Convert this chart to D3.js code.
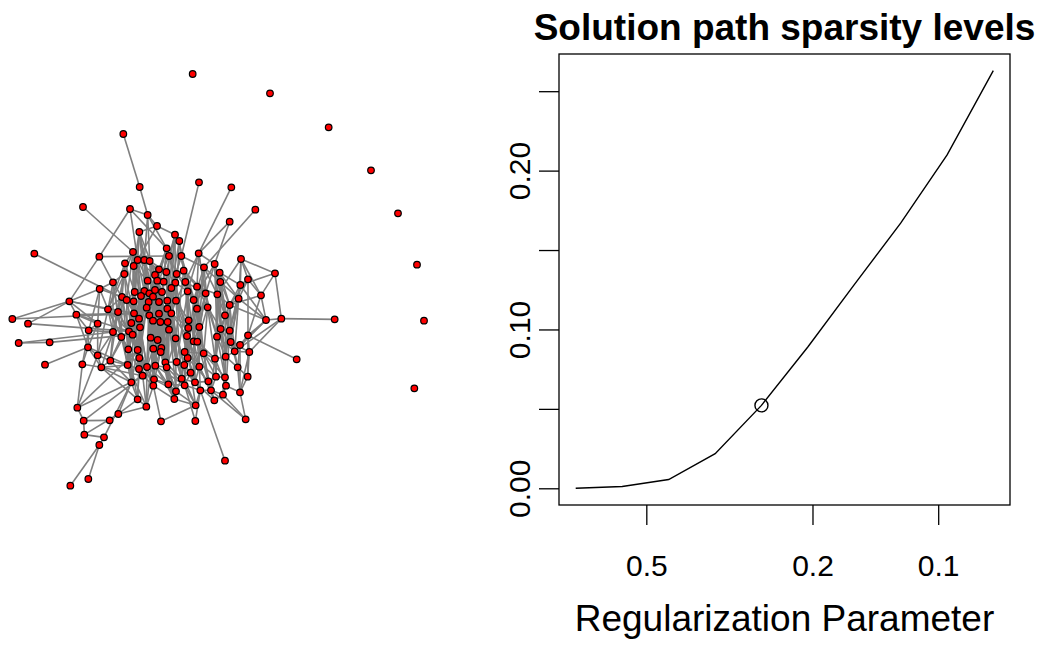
<!DOCTYPE html>
<html>
<head>
<meta charset="utf-8">
<script src="https://cdn.jsdelivr.net/npm/d3@7"></script>
<style>
  body { margin: 0; background: #fff; }
  svg { display: block; font-family: "Liberation Sans", Arial, Helvetica, sans-serif; }
</style>
</head>
<body>
<div id="d3-container"></div>
<script>
/* CONSTANTS AND GLOBALS */
const width = 1042,
  height = 655;

/* DATA */
// network layout coordinates (layout units, y grows downward)
const coreNodes = [
  [418,516],[525,524],[538,543],[500,565],[399,576],[298,590],[413,600],[433,600],[449,603],[507,588],
  [544,588],[596,580],[723,597],[375,610],[401,618],[477,628],[465,645],[499,636],[530,642],[551,632],
  [612,622],[644,612],[659,638],[373,642],[443,662],[472,662],[491,665],[526,668],[556,666],[591,680],
  [661,666],[721,675],[744,658],[825,640],[339,667],[299,687],[404,696],[433,693],[448,700],[465,690],
  [486,696],[514,684],[563,694],[617,700],[652,703],[716,716],[783,706],[366,711],[380,720],[401,724],
  [423,708],[446,726],[459,710],[477,726],[502,722],[528,722],[581,720],[208,724],[229,764],[324,748],
  [354,756],[402,760],[440,743],[448,766],[477,761],[502,746],[514,760],[591,746],[623,742],[675,766],
  [689,735],[798,780],[844,776],[417,776],[394,789],[459,782],[481,786],[503,786],[566,781],[420,802],
  [598,801],[293,791],[266,811],[339,816],[364,831],[387,814],[398,824],[452,833],[473,840],[507,809],
  [527,835],[561,828],[581,844],[592,845],[651,830],[662,807],[689,812],[692,846],[744,826],[264,862],
  [413,870],[385,868],[460,866],[484,864],[482,876],[565,804],[720,855],[293,886],[331,902],[247,913],
  [304,922],[383,915],[418,894],[441,921],[466,917],[496,907],[500,922],[530,906],[553,915],[563,894],
  [554,876],[611,880],[645,896],[677,890],[704,874],[748,876],[598,920],[572,938],[417,927],[428,947],
  [394,967],[462,958],[460,977],[505,973],[528,994],[545,956],[554,976],[585,967],[601,991],[625,964],
  [648,950],[675,952],[678,977],[713,922],[743,950],[633,991],[669,1004],[720,997],[413,1018],[439,1040],
  [523,1017],[587,1036],[643,1021],[232,1043]
];

const outerNodes = [
  [578,42],[810,100],[986,202],[1113,331],[1194,460],[1251,614],[1272,782],[1243,985],
  [370,222],[419,381],[597,367],[694,382],[766,449],[249,441],[390,447],[443,465],[689,485],[471,498],
  [103,581],[37,777],[84,791],[56,849],[149,847],[135,914],[1004,778],[890,898],
  [251,1082],[253,1124],[312,1132],[298,1155],[329,1081],[355,1062],[211,1277],[265,1257],
  [483,1084],[586,1083],[675,1202],[737,1078]
];

// edges: core nodes by number, outer nodes as "o#"
const coreEdges = `
0-6 0-14 0-24 0-40 1-9 1-17 1-27 2-10 2-19 2-41 3-15 3-25 3-52 4-13 4-23 4-36
5-9 5-34 5-57 6-16 6-37 6-50 7-15 7-38 7-62 8-17 8-26 8-53 9-18 9-39 10-20 10-28 10-42
11-21 11-29 11-43 12-31 12-32 12-45 13-23 13-47 13-60 14-24 14-49 14-61 15-25 15-39 15-64
16-26 16-51 16-63 17-27 17-54 17-65 18-28 18-55 18-66 19-29 19-42 19-67 20-30 20-44 20-68
21-30 21-43 21-69 22-31 22-44 22-70 23-34 23-48 23-59 24-37 24-50 24-73 25-40 25-52 25-75
26-41 26-53 26-76 27-42 27-55 27-77 28-43 28-56 28-78 29-44 29-67 29-80 30-45 30-70 30-95
31-32 31-45 31-96 32-45 32-46 32-98 33-46 33-72 34-35 34-47 34-59 34-83 35-47 35-57 35-81
36-48 36-49 36-61 36-85 37-50 37-62 37-74 38-51 38-63 38-79 39-52 39-64 39-87 40-53 40-65 40-88
41-54 41-66 41-89 42-55 42-67 42-91 43-56 43-68 43-93 44-69 44-70 44-94 45-70 45-71 45-96
46-71 46-98 47-60 47-84 47-59 48-60 48-61 48-86 49-61 49-73 49-100 50-62 50-73 50-101
51-63 51-75 51-102 52-64 52-76 52-103 53-65 53-77 53-104 54-66 54-89 54-115 55-66 55-78 55-105
56-67 56-80 56-119 57-58 57-59 57-81 58-81 58-82 58-99 59-83 59-84 59-107 60-84 60-85 60-108
61-74 61-85 61-111 62-73 62-87 62-112 63-75 63-87 63-113 64-76 64-88 64-114 65-77 65-89 65-116
66-90 66-105 66-117 67-80 67-91 67-120 68-93 68-94 68-121 69-95 69-96 69-122 70-95 70-97 70-123
71-98 71-106 71-124 72-124 72-125 72-71 73-79 73-86 73-128 74-86 74-101 74-111 75-87 75-102 75-131
76-88 76-103 76-133 77-90 77-104 77-115 78-91 78-105 78-118 79-100 79-112 79-129 80-92 80-93 80-126
81-82 81-99 81-107 82-99 82-109 82-83 83-107 83-108 83-84 84-101 84-108 84-111 85-100 85-101 85-130
86-100 86-112 86-128 87-102 87-113 87-131 88-103 88-114 88-132 89-104 89-115 89-133 90-116 90-117 90-134
91-105 91-119 91-135 92-120 92-121 92-137 93-121 93-126 93-139 94-122 94-123 94-140 95-96 95-123 95-141
96-97 96-124 96-142 97-106 97-125 97-143 98-106 98-125 98-144 99-107 99-109 99-110 100-111 100-128 100-129
101-111 101-130 101-148 102-113 102-114 102-131 103-104 103-116 103-132 104-115 104-133 105-119 105-120 105-136
106-124 106-143 106-147 107-108 107-110 107-153 108-110 108-111 108-130 109-110 109-153 110-111 110-129 110-148
111-128 111-130 111-149 112-113 112-129 112-131 113-114 113-132 113-149 114-116 114-133 114-150 115-117 115-134
116-133 116-134 116-150 117-118 117-135 118-119 118-127 118-136 119-120 119-137 120-121 120-126 121-122 121-139
122-123 122-140 122-145 123-124 123-141 124-125 124-143 125-144 125-147 126-127 126-137 126-138
127-135 127-136 127-151 128-129 128-148 129-130 129-149 130-148 130-153 131-132 131-134 132-149 132-150
133-136 133-150 134-135 134-151 135-137 136-138 136-151 137-139 137-152 138-145 138-151 139-140 139-152
140-141 140-145 141-142 141-146 142-146 142-147 143-144 143-147 144-147 145-146 145-152 146-152 148-149 150-151
0-52 3-40 6-61 10-54 11-55 12-44 15-53 20-67 21-56 22-69 24-86 25-89 27-91 29-93 30-122 31-70
36-74 37-79 39-103 40-76 41-90 42-92 43-94 44-123 47-83 48-73 49-86 50-112 52-102 53-116 54-117
55-119 57-61 58-85 59-85 60-100 62-102 63-114 64-115 65-133 66-118 67-121 68-124 69-97 73-113
75-116 77-117 78-137 80-139 84-128 87-132 88-134 89-135 91-126 93-140 94-141 99-111 100-130
102-149 104-150 105-127 110-130 112-148 114-136 117-151 119-138 121-145 123-146 126-152
0-36 0-62 1-41 1-54 2-28 2-55 3-26 3-62 4-48 4-61 6-24 6-73 7-51 7-64 8-40 8-75 9-27 9-65
10-41 10-67 11-42 11-68 13-36 13-59 14-50 14-74 15-52 15-87 16-38 16-76 17-41 17-77 18-56 18-89
19-43 19-90 20-56 20-93 21-44 21-94 22-45 22-95 23-61 23-83 24-62 24-100 25-63 25-102 26-64 26-103
27-66 27-104 28-67 28-105 29-68 29-121 30-69 30-96 31-71 31-97 32-70 34-60 34-84 35-59 35-82
36-73 36-100 37-63 37-112 38-64 38-113 39-75 39-114 40-66 40-115 41-77 41-116 42-78 42-117
43-80 43-119 44-95 44-122 45-97 45-124 46-70 47-85 47-101 48-74 48-111 49-79 49-128 50-86 50-129
51-87 51-131 52-88 52-132 53-89 53-133 54-90 54-134 55-91 55-135 56-92 56-137 59-101 60-111
61-86 61-130 62-100 63-102 64-103 65-104 66-91 67-92 68-122 69-123 70-124 73-101 74-108 75-103
76-104 77-116 78-120 79-113 80-121 83-110 85-112 86-113 87-114 88-115 89-117 90-118 91-120
92-126 93-122 94-124 95-122 96-123 97-124 100-113 101-128 102-131 103-114 104-116 105-118
112-132 113-133 115-135 116-136 117-137 118-138 119-139 120-140 121-141 122-142 123-143
126-145 127-138 128-131 129-132 131-133 133-134 134-150 135-136
`;

const outerEdges = `
o8-o9 o9-o15 o15-o17 o15-3 o15-7 o15-8 o10-10 o11-11 o12-20 o13-4 o14-5 o14-o15 o14-3 o14-6
o16-11 o16-21 o17-1 o17-0 o17-6 o18-48 o19-61 o19-57 o20-57 o20-85 o21-o22 o21-83 o22-86 o23-99
o26-o30 o26-o27 o26-129 o27-o28 o27-o31 o28-o29 o28-130 o29-o32 o29-o33 o30-148 o31-130 o31-149
o34-132 o34-151 o35-136 o35-138 o36-138 o37-145 o37-146 o37-147 72-o24 o25-98 33-12 33-31
12-46 153-100 153-o26 71-70 58-61
`;

// solution path
const lambdas = [0.738, 0.571, 0.442, 0.342, 0.265, 0.205, 0.159, 0.123, 0.0952, 0.0738];
const sparsity = [0, 0.0011, 0.0055, 0.0218, 0.0522, 0.0891, 0.1281, 0.1669, 0.2099, 0.2629];
const selectedIndex = 4;
const yTicks = [0, 0.05, 0.10, 0.15, 0.20, 0.25];
const yTickLabels = ["0.00", "", "0.10", "", "0.20", ""];
const xTicks = [0.5, 0.2, 0.1];
const xTickLabels = ["0.5", "0.2", "0.1"];

const svg = d3.select("#d3-container")
  .append("svg")
  .attr("width", width)
  .attr("height", height);

svg.append("rect").attr("width", width).attr("height", height).attr("fill", "#fff");

/* NETWORK */
const nodeMap = new Map();
coreNodes.forEach((d, i) => nodeMap.set(String(i), d));
outerNodes.forEach((d, i) => nodeMap.set("o" + i, d));

const edges = (coreEdges + " " + outerEdges).trim().split(/\s+/)
  .map(s => s.split("-"))
  .map(([a, b]) => ({ source: nodeMap.get(a), target: nodeMap.get(b) }));

const nx = d3.scaleLinear().domain([0, 1350]).range([0, 450]);
const ny = d3.scaleLinear().domain([0, 1320]).range([60, 500]);

const net = svg.append("g").attr("class", "network");

net.selectAll("line")
  .data(edges)
  .join("line")
  .attr("x1", d => nx(d.source[0]))
  .attr("y1", d => ny(d.source[1]))
  .attr("x2", d => nx(d.target[0]))
  .attr("y2", d => ny(d.target[1]))
  .attr("stroke", "#808080")
  .attr("stroke-width", 1.6);

net.selectAll("circle")
  .data(coreNodes.concat(outerNodes))
  .join("circle")
  .attr("cx", d => nx(d[0]))
  .attr("cy", d => ny(d[1]))
  .attr("r", 3.3)
  .attr("fill", "#ff0000")
  .attr("stroke", "#000")
  .attr("stroke-width", 1.2);

/* SOLUTION PATH */
const plot = { left: 559, right: 1010, top: 54, bottom: 505 };

// R-style 4% padding on both axes
const logLo = Math.log10(d3.min(lambdas)), logHi = Math.log10(d3.max(lambdas));
const xPad = 0.04 * (logHi - logLo);
const xScale = d3.scaleLog()
  .domain([Math.pow(10, logHi + xPad), Math.pow(10, logLo - xPad)])
  .range([plot.left, plot.right]);

const yMax = d3.max(sparsity), yPad = 0.04 * yMax;
const yScale = d3.scaleLinear()
  .domain([-yPad, yMax + yPad])
  .range([plot.bottom, plot.top]);

const path = svg.append("g").attr("class", "path-plot");

path.append("rect")
  .attr("x", plot.left).attr("y", plot.top)
  .attr("width", plot.right - plot.left)
  .attr("height", plot.bottom - plot.top)
  .attr("fill", "none").attr("stroke", "#000").attr("stroke-width", 1.3);

const line = d3.line()
  .x((d, i) => xScale(lambdas[i]))
  .y(d => yScale(d));

path.append("path")
  .datum(sparsity)
  .attr("d", line)
  .attr("fill", "none")
  .attr("stroke", "#000")
  .attr("stroke-width", 1.4);

path.append("circle")
  .attr("cx", xScale(lambdas[selectedIndex]))
  .attr("cy", yScale(sparsity[selectedIndex]))
  .attr("r", 6.5)
  .attr("fill", "none")
  .attr("stroke", "#000")
  .attr("stroke-width", 1.4);

// AXES
const xAxis = d3.axisBottom(xScale)
  .tickValues(xTicks)
  .tickFormat((d, i) => xTickLabels[i])
  .tickSize(20)
  .tickPadding(30);

const xg = path.append("g")
  .attr("transform", `translate(0, ${plot.bottom})`)
  .call(xAxis);
xg.select(".domain").remove();
xg.selectAll("line").attr("stroke-width", 1.3);
xg.selectAll("text").attr("font-size", 30).attr("fill", "#000")
  .attr("font-family", "Liberation Sans, Arial, sans-serif");

const yAxis = d3.axisLeft(yScale)
  .tickValues(yTicks)
  .tickFormat((d, i) => yTickLabels[i])
  .tickSize(20);

const yg = path.append("g")
  .attr("transform", `translate(${plot.left}, 0)`)
  .call(yAxis);
yg.select(".domain").remove();
yg.selectAll("line").attr("stroke-width", 1.3);
yg.selectAll("text")
  .attr("font-size", 30).attr("fill", "#000")
  .attr("font-family", "Liberation Sans, Arial, sans-serif")
  .attr("x", null)
  .attr("text-anchor", "middle")
  .attr("transform", "translate(-40, 0) rotate(-90)")
  .attr("dy", "0.35em");

// TITLES
svg.append("text")
  .attr("x", (plot.left + plot.right) / 2)
  .attr("y", 40)
  .attr("text-anchor", "middle")
  .attr("font-size", 37)
  .attr("font-weight", "bold")
  .text("Solution path sparsity levels");

svg.append("text")
  .attr("x", (plot.left + plot.right) / 2)
  .attr("y", 631)
  .attr("text-anchor", "middle")
  .attr("font-size", 37)
  .text("Regularization Parameter");
</script>
</body>
</html>
